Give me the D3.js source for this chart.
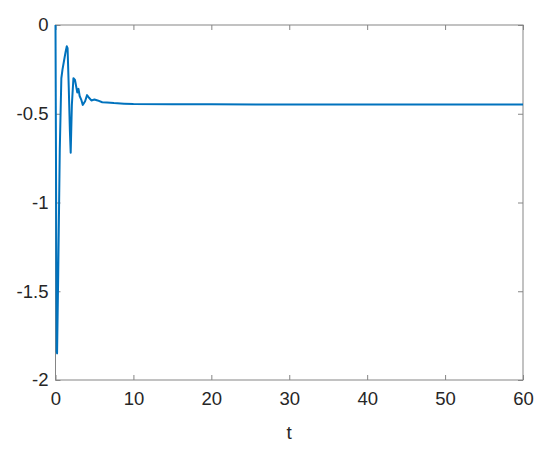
<!DOCTYPE html>
<html>
<head>
<meta charset="utf-8">
<script src="https://cdn.jsdelivr.net/npm/d3@7"></script>
<style>
  body { margin: 0; background: #fff; }
  text { font-family: "Liberation Sans", Arial, sans-serif; }
</style>
</head>
<body>
<div id="chart"></div>
<script>
// time samples and response values
var tVals = [0, 0.05, 0.15, 0.2, 0.35, 0.55, 0.75, 0.9, 1.1, 1.3, 1.45, 1.55, 1.7, 1.85, 1.95,
  2.1, 2.3, 2.5, 2.8, 2.95, 3.1, 3.3, 3.5, 3.8, 4.05, 4.3, 4.6, 5.0, 5.4, 6.0, 6.6, 7.5,
  8.8, 10, 15, 20, 30, 40, 50, 60];
var yVals = [0, -0.6, -1.84, -1.85, -1.4, -0.7, -0.3, -0.25, -0.2, -0.15, -0.12, -0.13, -0.35, -0.6, -0.72,
  -0.45, -0.30, -0.31, -0.38, -0.36, -0.40, -0.42, -0.45, -0.43, -0.395, -0.41, -0.425, -0.42, -0.425, -0.435, -0.437, -0.44,
  -0.443, -0.445, -0.447, -0.447, -0.448, -0.448, -0.448, -0.448];

var xTicks = [0, 10, 20, 30, 40, 50, 60];
var yTicks = [0, -0.5, -1, -1.5, -2];

var margin = {top: 25, right: 27, bottom: 73, left: 55.5},
    width = 550 - margin.left - margin.right,
    height = 453 - margin.top - margin.bottom;

var x = d3.scaleLinear().domain([0, 60]).range([0, width]);
var y = d3.scaleLinear().domain([-2, 0]).range([height, 0]);

var svg = d3.select("#chart").append("svg")
    .attr("width", 550)
    .attr("height", 453)
  .append("g")
    .attr("transform", "translate(" + margin.left + "," + margin.top + ")");

var axisColor = "#858585";
var textColor = "#262626";

function styleAxis(g) {
  g.attr("font-size", null).attr("font-family", null);
  g.select(".domain").remove();
  g.selectAll(".tick line").attr("stroke", axisColor);
  g.selectAll(".tick text").attr("fill", textColor).attr("font-size", 18.5);
}

// bottom and left axes with labels, ticks pointing inward
svg.append("g")
    .attr("transform", "translate(0," + height + ")")
    .call(d3.axisBottom(x).tickValues(xTicks).tickSizeInner(-5).tickPadding(12).tickFormat(d3.format("d")))
    .call(styleAxis);

svg.append("g")
    .call(d3.axisLeft(y).tickValues(yTicks).tickSizeInner(-5).tickPadding(7).tickFormat(function(d) {
      return d === 0 ? "0" : String(d);
    }))
    .call(styleAxis);

// top and right axes, ticks only
svg.append("g")
    .call(d3.axisTop(x).tickValues(xTicks).tickSizeInner(-5).tickFormat(""))
    .call(styleAxis);

svg.append("g")
    .attr("transform", "translate(" + width + ",0)")
    .call(d3.axisRight(y).tickValues(yTicks).tickSizeInner(-5).tickFormat(""))
    .call(styleAxis);

// box
svg.append("rect")
    .attr("x", 0).attr("y", 0)
    .attr("width", width).attr("height", height)
    .attr("fill", "none")
    .attr("stroke", axisColor)
    .attr("stroke-width", 1);

var line = d3.line()
    .x(function(d, i) { return x(tVals[i]); })
    .y(function(d) { return y(d); });

svg.append("path")
    .datum(yVals)
    .attr("fill", "none")
    .attr("stroke", "#0072BD")
    .attr("stroke-width", 2)
    .attr("stroke-linejoin", "round")
    .attr("d", line);

// x axis label
svg.append("text")
    .attr("x", width / 2)
    .attr("y", height + 59)
    .attr("text-anchor", "middle")
    .attr("fill", textColor)
    .attr("font-size", 19)
    .text("t");
</script>
</body>
</html>
